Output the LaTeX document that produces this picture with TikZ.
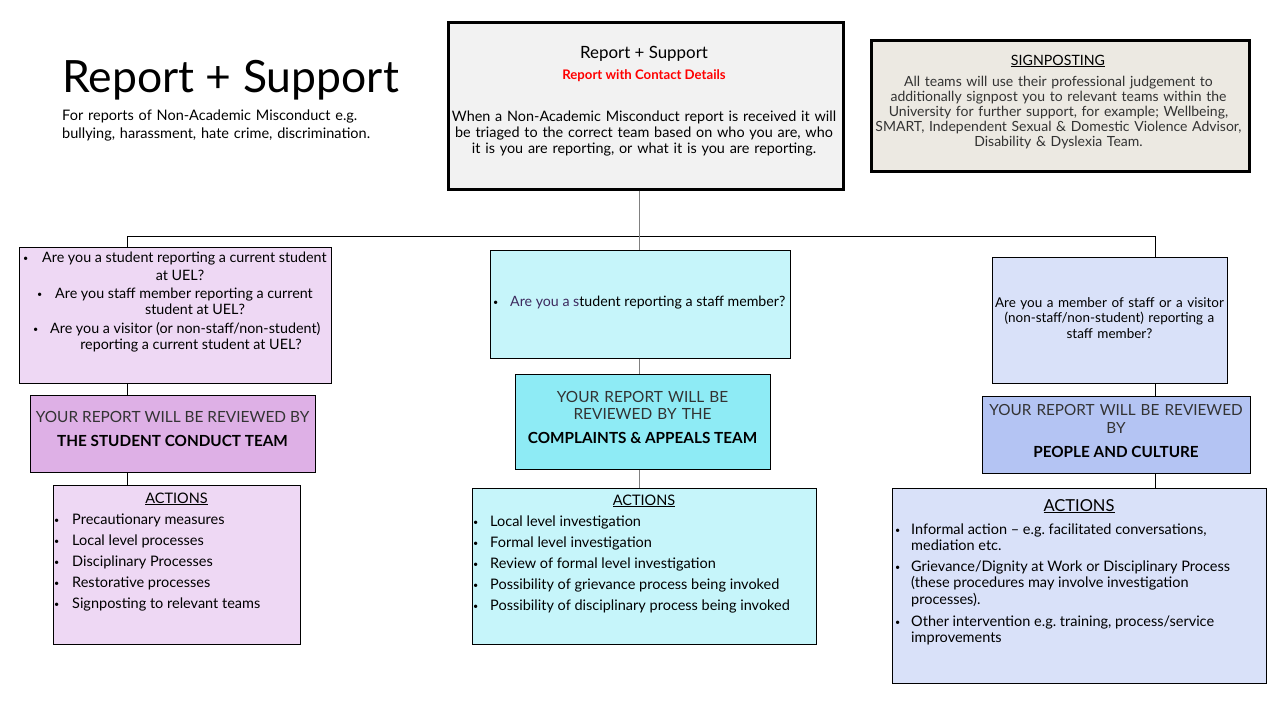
\documentclass[tikz,border=0pt]{standalone}
\usepackage{fontspec}
\setmainfont{Lato}
\frenchspacing
\definecolor{lpurp}{HTML}{EED8F4}
\definecolor{dpurp}{HTML}{DEB0E6}
\definecolor{lcyan}{HTML}{C6F5FA}
\definecolor{dcyan}{HTML}{8EEBF5}
\definecolor{lblue}{HTML}{D9E1F9}
\definecolor{dblue}{HTML}{B4C4F3}
\definecolor{cgray}{HTML}{F2F2F2}
\definecolor{sgray}{HTML}{ECE9E2}
\definecolor{qpurp}{HTML}{3D2A5E}
\definecolor{txtg}{HTML}{333333}
\newcommand\fs[2]{\fontsize{#1}{#2}\selectfont}
\newcommand\bul[1]{\makebox[#1][l]{\fs{9}{9}\raisebox{0.6pt}{•}}}
\begin{document}
\begin{tikzpicture}[x=1pt,y=-1pt,
  box/.style={draw=black, line width=1pt, inner sep=0pt, anchor=north west},
  thickbox/.style={draw=black, line width=3pt, inner sep=0pt, anchor=north west},
  txt/.style={inner sep=0pt, anchor=base, font=\fs{14.5}{16}},
  ltxt/.style={inner sep=0pt, anchor=base west, font=\fs{14.5}{16}},
  conn/.style={line width=0.8pt, black},
  gconn/.style={line width=0.8pt, gray}]
\useasboundingbox (0,0) rectangle (1280,720);
\fill[white] (0,0) rectangle (1280,720);

% title
\node[inner sep=0pt, anchor=base west, font=\fs{44.5}{48}] (title) at (62,92) {Report + Support};
\node[inner sep=0pt, anchor=base west, font=\fs{14.5}{18}, align=left, text width=340pt] (sub) at (62,120.5)
  {For reports of Non-Academic Misconduct e.g.\\bullying, harassment, hate crime, discrimination.};

% central box
\node[thickbox, fill=cgray, minimum width=395pt, minimum height=167pt] (cbox) at (446.5,20.5) {};
\node[txt, font=\fs{16.9}{18}] (ct1) at (644,58) {Report + Support};
\node[txt, font=\fs{13.2}{14}\bfseries, text=red] (ct2) at (644,79) {Report with Contact Details};
\node[txt, font=\fs{14.4}{16}, align=center, text width=400pt] (ct3) at (644,121)
  {When a Non-Academic Misconduct report is received it will\\be triaged to the correct team based on who you are, who\\it is you are reporting, or what it is you are reporting.};

% signposting box
\node[thickbox, fill=sgray, minimum width=378pt, minimum height=131pt] (sbox) at (869.5,38.5) {};
\node[txt, font=\fs{14.2}{16}, text=black] (st1) at (1058,65) {\underline{SIGNPOSTING}};
\node[txt, font=\fs{14}{15.2}, text=txtg, align=center, text width=380pt] (st2) at (1058.5,86)
  {All teams will use their professional judgement to\\additionally signpost you to relevant teams within the\\University for further support, for example; Wellbeing,\\SMART, Independent Sexual \& Domestic Violence Advisor,\\Disability \& Dyslexia Team.};

% left column
\node[box, fill=lpurp, minimum width=312pt, minimum height=136pt] (qL) at (19,247) {};
\node[ltxt, font=\fs{14.3}{16}] (ql1) at (23,262) {\bul{19pt}Are you a student reporting a current student};
\node[txt, font=\fs{14.3}{16}] (ql2) at (180,280) {at UEL?};
\node[ltxt, font=\fs{14.3}{16}] (ql3) at (37,298) {\bul{18pt}Are you staff member reporting a current};
\node[txt, font=\fs{14.3}{16}] (ql4) at (195,314) {student at UEL?};
\node[ltxt, font=\fs{14.3}{16}] (ql5) at (33,333) {\bul{17pt}Are you a visitor (or non-staff/non-student)};
\node[txt, font=\fs{14.3}{16}] (ql6) at (191,349) {reporting a current student at UEL?};

\node[box, fill=dpurp, minimum width=285pt, minimum height=77pt] (rL) at (30,395) {};
\node[txt, font=\fs{15.4}{16}, text=txtg] (rl1) at (172.5,422) {YOUR REPORT WILL BE REVIEWED BY};
\node[txt, font=\fs{15.3}{16}\bfseries] (rl2) at (172.5,446) {THE STUDENT CONDUCT TEAM};

\node[box, fill=lpurp, minimum width=247pt, minimum height=159pt] (aL) at (53,485) {};
\node[txt] (al0) at (176.5,503) {\underline{ACTIONS}};
\node[ltxt] (al1) at (54,524) {\bul{18pt}Precautionary measures};
\node[ltxt] (al2) at (54,545) {\bul{18pt}Local level processes};
\node[ltxt] (al3) at (54,566) {\bul{18pt}Disciplinary Processes};
\node[ltxt] (al4) at (54,587) {\bul{18pt}Restorative processes};
\node[ltxt] (al5) at (54,608) {\bul{18pt}Signposting to relevant teams};

% middle column
\node[box, fill=lcyan, minimum width=300pt, minimum height=108pt] (qM) at (490,250) {};
\node[ltxt, font=\fs{14.2}{16}] (qm1) at (493,306) {\bul{17pt}\textcolor{qpurp}{Are you a s}tudent reporting a staff member?};

\node[box, fill=dcyan, minimum width=255pt, minimum height=95pt] (rM) at (515,374) {};
\node[txt, font=\fs{15.4}{17}, text=txtg, align=center, text width=250pt] (rm1) at (642.5,402) {YOUR REPORT WILL BE\\REVIEWED BY THE};
\node[txt, font=\fs{15.3}{16}\bfseries] (rm2) at (642.5,443) {COMPLAINTS \& APPEALS TEAM};

\node[box, fill=lcyan, minimum width=344pt, minimum height=156pt] (aM) at (472,488) {};
\node[txt] (am0) at (644,505) {\underline{ACTIONS}};
\node[ltxt] (am1) at (473,526) {\bul{17pt}Local level investigation};
\node[ltxt] (am2) at (473,547) {\bul{17pt}Formal level investigation};
\node[ltxt] (am3) at (473,568) {\bul{17pt}Review of formal level investigation};
\node[ltxt] (am4) at (473,589) {\bul{17pt}Possibility of grievance process being invoked};
\node[ltxt] (am5) at (473,610) {\bul{17pt}Possibility of disciplinary process being invoked};

% right column
\node[box, fill=lblue, minimum width=235pt, minimum height=126pt] (qR) at (992,257) {};
\node[txt, align=center, text width=235pt, font=\fs{13.5}{15.5}] (qr1) at (1109.5,307)
  {Are you a member of staff or a visitor\\(non-staff/non-student) reporting a\\staff member?};

\node[box, fill=dblue, minimum width=268pt, minimum height=77pt] (rR) at (982,396) {};
\node[txt, font=\fs{15.3}{18}, text=txtg, align=center, text width=268pt] (rr1) at (1116,415) {YOUR REPORT WILL BE REVIEWED\\BY};
\node[txt, font=\fs{15.3}{16}\bfseries] (rr2) at (1116,457) {PEOPLE AND CULTURE};

\node[box, fill=lblue, minimum width=374pt, minimum height=195pt] (aR) at (892,488) {};
\node[txt, font=\fs{16.5}{18}] (ar0) at (1079,511) {\underline{ACTIONS}};
\node[ltxt] (ar1) at (895,534) {\bul{16pt}Informal action -- e.g. facilitated conversations,};
\node[ltxt] (ar1b) at (911,550) {mediation etc.};
\node[ltxt] (ar2) at (895,571) {\bul{16pt}Grievance/Dignity at Work or Disciplinary Process};
\node[ltxt] (ar2b) at (911,587.5) {(these procedures may involve investigation};
\node[ltxt] (ar2c) at (911,604) {processes).};
\node[ltxt] (ar3) at (895,626) {\bul{16pt}Other intervention e.g. training, process/service};
\node[ltxt] (ar3b) at (911,642) {improvements};

% connectors
\coordinate (jc) at (639,236);
\coordinate (jl) at (127,236);
\coordinate (jr) at (1155,236);
\draw[gconn] (jc |- cbox.south) -- (jc);
\draw[conn] (jl) -- (jr);
\draw[conn] (jl) -- (jl |- qL.north);
\draw[gconn] (jc) -- (jc |- qM.north);
\draw[conn] (jr) -- (jr |- qR.north);
\draw[conn] (jl |- qL.south) -- (jl |- rL.north);
\draw[conn] (jl |- rL.south) -- (jl |- aL.north);
\draw[gconn] (jc |- qM.south) -- (jc |- rM.north);
\draw[gconn] (jc |- rM.south) -- (jc |- aM.north);
\draw[conn] (jr |- qR.south) -- (jr |- rR.north);
\draw[conn] (jr |- rR.south) -- (jr |- aR.north);
\end{tikzpicture}
\end{document}
